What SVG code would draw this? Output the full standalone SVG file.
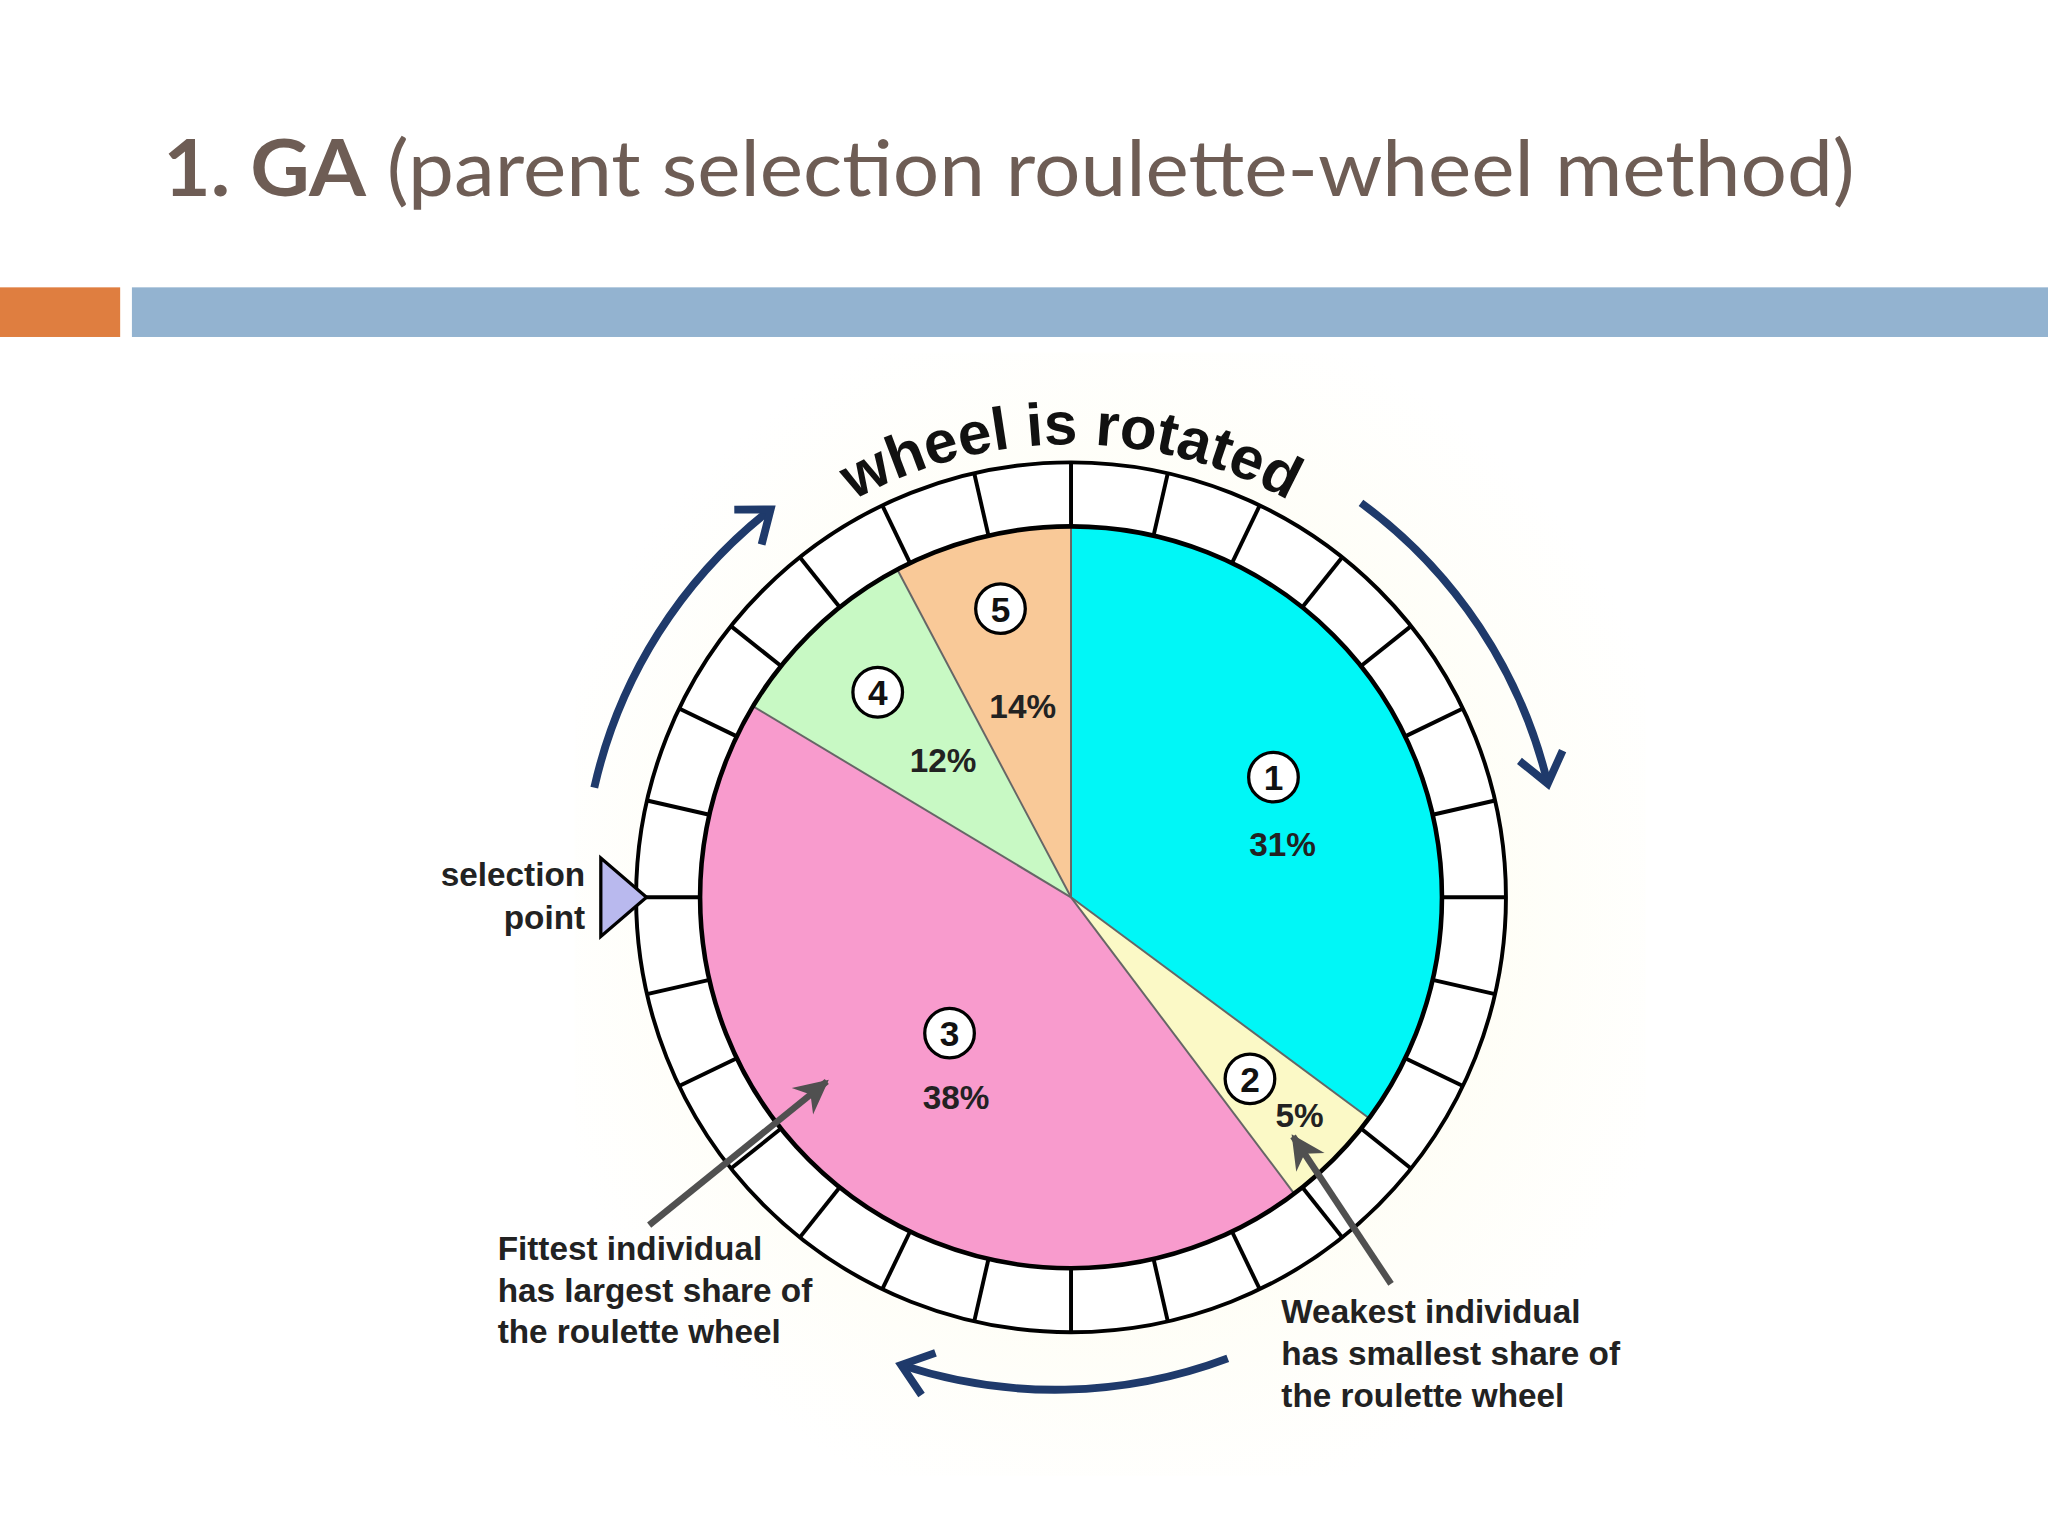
<svg xmlns="http://www.w3.org/2000/svg" width="2048" height="1536" viewBox="0 0 2048 1536">
<defs>
<style>
.lbl{font-family:"Liberation Sans",Arial,sans-serif;font-weight:bold;font-size:25.5px;fill:#222}
.num{font-family:"Liberation Sans",Arial,sans-serif;font-weight:bold;font-size:27px;fill:#111;text-anchor:middle}
.nc{fill:#fff;stroke:#000;stroke-width:2.5}
.tick{stroke:#000;stroke-width:3}
.rot{fill:none;stroke:#1f3a6b;stroke-width:6;marker-end:url(#chev)}
.gray{stroke:#505050;stroke-width:5;marker-end:url(#tri)}
</style>
<marker id="chev" markerUnits="userSpaceOnUse" viewBox="-30 -22 40 44" markerWidth="40" markerHeight="44" refX="0" refY="0" orient="auto"><path d="M-22,-17 L0,0 L-22,17" fill="none" stroke="#1f3a6b" stroke-width="6"/></marker>
<marker id="tri" markerUnits="userSpaceOnUse" viewBox="-24 -14 28 28" markerWidth="28" markerHeight="28" refX="0" refY="0" orient="auto"><path d="M-24,-13 L2,0 L-24,13 L-16,0 Z" fill="#505050"/></marker>
<radialGradient id="glow" cx="0.5" cy="0.5" r="0.55"><stop offset="0" stop-color="#fdfbe6"/><stop offset="1" stop-color="#ffffff"/></radialGradient>
<path id="arcTxt" d="M578,440 A343,343 0 0 1 1062,440"/>
</defs>
<rect width="2048" height="1536" fill="#fff"/>
<g transform="scale(1.30612)">
<g id="title"><text x="125" y="150" font-family="Lato,'Open Sans',sans-serif" font-size="60" fill="#6e5d55" textLength="1295" lengthAdjust="spacingAndGlyphs"><tspan font-weight="bold">1. GA</tspan> (parent selection roulette-wheel method)</text></g>
<rect x="0" y="220" width="92" height="38" fill="#df7e40"/>
<rect x="101" y="220" width="1467" height="38" fill="#93b3d0"/>
<rect x="440" y="270" width="820" height="860" fill="url(#glow)"/>
<g id="wheel">
<circle cx="820" cy="687" r="333" fill="#fff" stroke="#000" stroke-width="3"/>
<path d="M820,687 L820,403 A284,284 0 0 1 1048,856 Z" fill="#00f7f7"/>
<path d="M820,687 L1048,856 A284,284 0 0 1 991,914 Z" fill="#fbf9c6"/>
<path d="M820,687 L991,914 A284,284 0 0 1 577,541 Z" fill="#f89bcd"/>
<path d="M820,687 L577,541 A284,284 0 0 1 687,436 Z" fill="#c8f9c4"/>
<path d="M820,687 L687,436 A284,284 0 0 1 820,403 Z" fill="#f9c998"/>
<g stroke="#666" stroke-width="1.5"><line x1="820" y1="687" x2="820" y2="403"/><line x1="820" y1="687" x2="1048" y2="856"/><line x1="820" y1="687" x2="991" y2="914"/><line x1="820" y1="687" x2="577" y2="541"/><line x1="820" y1="687" x2="687" y2="436"/></g>
<circle cx="820" cy="687" r="284" fill="none" stroke="#000" stroke-width="3.5"/>
<g class="tick">
<line x1="820" y1="354" x2="820" y2="403" transform="rotate(0 820 687)"/>
<line x1="820" y1="354" x2="820" y2="403" transform="rotate(12.857 820 687)"/>
<line x1="820" y1="354" x2="820" y2="403" transform="rotate(25.714 820 687)"/>
<line x1="820" y1="354" x2="820" y2="403" transform="rotate(38.571 820 687)"/>
<line x1="820" y1="354" x2="820" y2="403" transform="rotate(51.429 820 687)"/>
<line x1="820" y1="354" x2="820" y2="403" transform="rotate(64.286 820 687)"/>
<line x1="820" y1="354" x2="820" y2="403" transform="rotate(77.143 820 687)"/>
<line x1="820" y1="354" x2="820" y2="403" transform="rotate(90 820 687)"/>
<line x1="820" y1="354" x2="820" y2="403" transform="rotate(102.857 820 687)"/>
<line x1="820" y1="354" x2="820" y2="403" transform="rotate(115.714 820 687)"/>
<line x1="820" y1="354" x2="820" y2="403" transform="rotate(128.571 820 687)"/>
<line x1="820" y1="354" x2="820" y2="403" transform="rotate(141.429 820 687)"/>
<line x1="820" y1="354" x2="820" y2="403" transform="rotate(154.286 820 687)"/>
<line x1="820" y1="354" x2="820" y2="403" transform="rotate(167.143 820 687)"/>
<line x1="820" y1="354" x2="820" y2="403" transform="rotate(180 820 687)"/>
<line x1="820" y1="354" x2="820" y2="403" transform="rotate(192.857 820 687)"/>
<line x1="820" y1="354" x2="820" y2="403" transform="rotate(205.714 820 687)"/>
<line x1="820" y1="354" x2="820" y2="403" transform="rotate(218.571 820 687)"/>
<line x1="820" y1="354" x2="820" y2="403" transform="rotate(231.429 820 687)"/>
<line x1="820" y1="354" x2="820" y2="403" transform="rotate(244.286 820 687)"/>
<line x1="820" y1="354" x2="820" y2="403" transform="rotate(257.143 820 687)"/>
<line x1="820" y1="354" x2="820" y2="403" transform="rotate(270 820 687)"/>
<line x1="820" y1="354" x2="820" y2="403" transform="rotate(282.857 820 687)"/>
<line x1="820" y1="354" x2="820" y2="403" transform="rotate(295.714 820 687)"/>
<line x1="820" y1="354" x2="820" y2="403" transform="rotate(308.571 820 687)"/>
<line x1="820" y1="354" x2="820" y2="403" transform="rotate(321.429 820 687)"/>
<line x1="820" y1="354" x2="820" y2="403" transform="rotate(334.286 820 687)"/>
<line x1="820" y1="354" x2="820" y2="403" transform="rotate(347.143 820 687)"/>
</g>
</g>
<g id="seg1"><circle class="nc" cx="975" cy="595" r="19"/><text class="num" x="975" y="605">1</text><text class="lbl" x="982" y="655" text-anchor="middle">31%</text></g>
<g id="seg2"><circle class="nc" cx="957" cy="826" r="19"/><text class="num" x="957" y="836">2</text><text class="lbl" x="995" y="863" text-anchor="middle">5%</text></g>
<g id="seg3"><circle class="nc" cx="727" cy="791" r="19"/><text class="num" x="727" y="801">3</text><text class="lbl" x="732" y="849" text-anchor="middle">38%</text></g>
<g id="seg4"><circle class="nc" cx="672" cy="530" r="19"/><text class="num" x="672" y="540">4</text><text class="lbl" x="722" y="591" text-anchor="middle">12%</text></g>
<g id="seg5"><circle class="nc" cx="766" cy="466" r="19"/><text class="num" x="766" y="476">5</text><text class="lbl" x="783" y="550" text-anchor="middle">14%</text></g>
<g id="rotated"><text font-family="'Liberation Sans',Arial,sans-serif" font-weight="bold" font-size="46" fill="#111"><textPath href="#arcTxt" startOffset="50%" text-anchor="middle">wheel is rotated</textPath></text></g>
<g id="selection"><path d="M460,657 L460,717 L495,687 Z" fill="#b9b9ee" stroke="#000" stroke-width="2.5"/><text class="lbl" x="448" y="678" text-anchor="end">selection</text><text class="lbl" x="448" y="711" text-anchor="end">point</text></g>
<g id="fittest"><text class="lbl"><tspan x="381" y="965">Fittest individual</tspan><tspan x="381" y="997">has largest share of</tspan><tspan x="381" y="1028">the roulette wheel</tspan></text></g>
<g id="weakest"><text class="lbl"><tspan x="981" y="1013">Weakest individual</tspan><tspan x="981" y="1045">has smallest share of</tspan><tspan x="981" y="1077">the roulette wheel</tspan></text></g>
<g id="connectors">
<path class="rot" d="M455,603 A375,375 0 0 1 590,390"/>
<path class="rot" d="M1042,385 A375,375 0 0 1 1185,600"/>
<path class="rot" d="M940,1040 A375,375 0 0 1 690,1045"/>
<line class="gray" x1="497" y1="938" x2="633" y2="828"/>
<line class="gray" x1="1065" y1="983" x2="990" y2="870"/>
</g>
</g>
</svg>
